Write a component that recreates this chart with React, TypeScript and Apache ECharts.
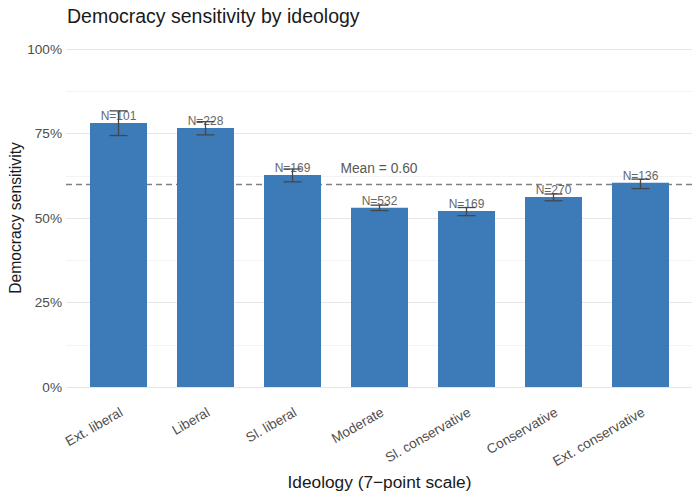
import React, { useEffect, useRef } from "react";
import * as echarts from "echarts";

const categories = ["Ext. liberal", "Liberal", "Sl. liberal", "Moderate", "Sl. conservative", "Conservative", "Ext. conservative"];
const values = [0.781, 0.766, 0.627, 0.530, 0.521, 0.562, 0.604];
const lowerCI = [0.744, 0.746, 0.607, 0.522, 0.507, 0.551, 0.587];
const upperCI = [0.817, 0.785, 0.645, 0.538, 0.531, 0.571, 0.615];
const counts = [101, 228, 169, 532, 169, 270, 136];
const meanValue = 0.6;
const yTicks = [0, 0.25, 0.5, 0.75, 1];

const FONT = "Liberation Sans, Arial, Helvetica, sans-serif";

export default function App() {
  const ref = useRef<HTMLDivElement>(null);
  useEffect(() => {
    if (!ref.current) return;
    const chart = echarts.init(ref.current, undefined, { renderer: "svg" });
    const top = 49;
    const bottom = 110;
    const gridBase = { top, bottom, containLabel: false, outerBoundsMode: "none" };
    const option: any = {
      animation: false,
      backgroundColor: "#ffffff",
      textStyle: { fontFamily: FONT },
      title: {
        text: "Democracy sensitivity by ideology",
        left: 62,
        top: 1,
        textStyle: { fontFamily: FONT, fontSize: 19.5, fontWeight: "normal", color: "#1a1a1a" },
      },
      grid: [
        { ...gridBase, left: 66, right: 7 },
        { ...gridBase, left: 75, width: 609 },
        { ...gridBase, left: 78, width: 609 },
      ],
      xAxis: [
        { type: "value", gridIndex: 0, min: 0, max: 1, show: false },
        {
          type: "category",
          gridIndex: 1,
          data: categories,
          axisLine: { show: false },
          axisTick: { show: false },
          splitLine: { show: false },
          axisLabel: { show: false },
          name: "Ideology (7\u2212point scale)",
          nameLocation: "middle",
          nameGap: 86,
          nameMoveOverlap: false,
          nameTextStyle: { fontSize: 17.3, color: "#1a1a1a", fontFamily: FONT },
        },
        {
          type: "category",
          gridIndex: 2,
          data: categories,
          axisLine: { show: false },
          axisTick: { show: false },
          splitLine: { show: false },
          axisLabel: { rotate: 30, margin: 24, fontSize: 13.6, color: "#4d4d4d", fontFamily: FONT },
        },
      ],
      yAxis: [
        {
          type: "value",
          gridIndex: 0,
          min: 0,
          max: 1,
          interval: 0.25,
          axisLine: { show: false },
          axisTick: { show: false },
          axisLabel: {
            fontSize: 13.6,
            color: "#4d4d4d",
            margin: 4,
            fontFamily: FONT,
            formatter: (v: number) => (yTicks.includes(v) ? Math.round(v * 100) + "%" : ""),
          },
          splitLine: { show: true, lineStyle: { color: "#e6e6e6", width: 1 } },
          minorTick: { show: false, splitNumber: 2 },
          minorSplitLine: { show: true, lineStyle: { color: "#f3f3f3", width: 1 } },
          name: "Democracy sensitivity",
          nameLocation: "middle",
          nameGap: 43,
          nameMoveOverlap: false,
          nameTextStyle: { fontSize: 15.7, color: "#1a1a1a", fontFamily: FONT },
        },
        { type: "value", gridIndex: 1, min: 0, max: 1, show: false },
        { type: "value", gridIndex: 2, min: 0, max: 1, show: false },
      ],
      series: [
        {
          type: "line",
          xAxisIndex: 0,
          yAxisIndex: 0,
          data: [],
          silent: true,
          markLine: {
            symbol: "none",
            silent: true,
            lineStyle: { type: [6, 4], color: "#808080", width: 1.3 },
            label: {
              show: true,
              position: "middle",
              distance: 9,
              formatter: "Mean = " + meanValue.toFixed(2),
              fontSize: 13.8,
              color: "#595959",
              fontFamily: FONT,
            },
            data: [{ yAxis: meanValue }],
            z: 1,
          },
        },
        {
          type: "bar",
          xAxisIndex: 1,
          yAxisIndex: 1,
          data: values,
          barWidth: 57,
          itemStyle: { color: "#3c7ab8" },
          label: {
            show: true,
            position: "top",
            distance: 1,
            fontSize: 12,
            color: "#666666",
            fontFamily: FONT,
            formatter: (p: any) => "N=" + counts[p.dataIndex],
          },
          z: 2,
        },
        {
          type: "custom",
          xAxisIndex: 1,
          yAxisIndex: 1,
          data: categories.map((c, i) => [i, lowerCI[i], upperCI[i]]),
          z: 5,
          renderItem: (params: any, api: any) => {
            const x = api.value(0);
            const lo = api.coord([x, api.value(1)]);
            const hi = api.coord([x, api.value(2)]);
            const half = 9;
            const style = { stroke: "#474747", lineWidth: 1.3, fill: "none" };
            return {
              type: "group",
              children: [
                { type: "line", shape: { x1: lo[0], y1: lo[1], x2: hi[0], y2: hi[1] }, style },
                { type: "line", shape: { x1: lo[0] - half, y1: lo[1], x2: lo[0] + half, y2: lo[1] }, style },
                { type: "line", shape: { x1: hi[0] - half, y1: hi[1], x2: hi[0] + half, y2: hi[1] }, style },
              ],
            };
          },
        },
      ],
    };
    chart.setOption(option);
    return () => chart.dispose();
  }, []);
  return <div ref={ref} style={{ position: "fixed", left: 0, top: 0, width: 699, height: 497 }} />;
}
